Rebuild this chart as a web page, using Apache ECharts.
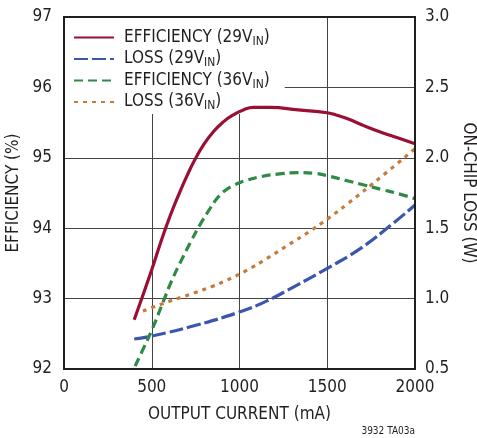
<!DOCTYPE html>
<html><head><meta charset="utf-8">
<script src="https://cdn.jsdelivr.net/npm/echarts@6/dist/echarts.min.js"></script>
<style>html,body{margin:0;padding:0;background:#fff}#c{width:477px;height:438px}</style>
</head><body><div id="c"></div>
<script>
// Efficiency (%) at 29V input
var eff29X = [400, 500, 547, 604, 661, 700, 741, 794, 851, 908, 965, 1022, 1079, 1174, 1335, 1500, 1560, 1620, 1715, 1810, 1905, 2000];
var eff29Y = [92.70, 93.41, 93.77, 94.17, 94.52, 94.74, 94.95, 95.18, 95.37, 95.51, 95.61, 95.68, 95.715, 95.715, 95.68, 95.64, 95.60, 95.55, 95.45, 95.36, 95.28, 95.20];
// On-chip loss (W) at 29V input
var loss29X = [400, 500, 756, 1000, 1150, 1307, 1500, 1690, 1876, 2000];
var loss29Y = [0.713, 0.734, 0.812, 0.905, 0.980, 1.082, 1.215, 1.357, 1.535, 1.665];
// Efficiency (%) at 36V input
var eff36X = [405, 452, 500, 566, 613, 670, 727, 775, 832, 860, 889, 920, 965, 1000, 1041, 1117, 1240, 1335, 1430, 1500, 1620, 1715, 1810, 1905, 2000];
var eff36Y = [92.04, 92.29, 92.55, 92.96, 93.25, 93.55, 93.83, 94.05, 94.28, 94.385, 94.47, 94.54, 94.605, 94.645, 94.68, 94.73, 94.775, 94.79, 94.78, 94.745, 94.67, 94.61, 94.55, 94.49, 94.42];
// On-chip loss (W) at 36V input
var loss36X = [450, 566, 718, 851, 927, 1040, 1155, 1278, 1392, 1506, 1614, 1820, 2000];
var loss36Y = [0.912, 0.966, 1.030, 1.090, 1.130, 1.200, 1.284, 1.381, 1.471, 1.570, 1.672, 1.878, 2.065];

var xTicks = [0, 500, 1000, 1500, 2000];
var effTicks = [92, 93, 94, 95, 96, 97];
var lossTicks = [0.5, 1.0, 1.5, 2.0, 2.5, 3.0];
var seriesNames = ['EFFICIENCY (29V', 'LOSS (29V', 'EFFICIENCY (36V', 'LOSS (36V'];
var subText = 'IN';
var xTitle = 'OUTPUT CURRENT (mA)';
var yTitle = 'EFFICIENCY (%)';
var y2Title = 'ON-CHIP LOSS (W)';
var footnote = '3932 TA03a';

function pairs(xs, ys) { return xs.map(function (x, i) { return [x, ys[i]]; }); }

var FONT = '"Liberation Sans Narrow","DejaVu Sans Condensed","Liberation Sans",sans-serif';
var TXT = '#231f20';
var chart = echarts.init(document.getElementById('c'), null, {renderer: 'canvas'});
var labelStyle = {color: TXT, fontFamily: FONT, fontSize: 17};

function lineSeries(i, xs, ys, axis, color, type) {
  return {
    name: seriesNames[i], type: 'line', yAxisIndex: axis, data: pairs(xs, ys),
    smooth: 0.5, symbol: 'none', showSymbol: false, z: 5,
    color: color, itemStyle: {color: color},
    lineStyle: {color: color, width: 3.2, type: type}
  };
}

chart.setOption({
  animation: false,
  backgroundColor: '#fff',
  grid: {left: 64, right: 62, top: 17, bottom: 69, show: true, borderColor: '#231f20', borderWidth: 2,
         backgroundColor: 'transparent', containLabel: false, outerBoundsMode: 'none', z: 6},
  legend: {
    orient: 'vertical', left: 64, top: 17,
    padding: [12, 15, 2, 9],
    backgroundColor: '#fff',
    itemWidth: 40, itemHeight: 14, itemGap: 3,
    itemStyle: {color: 'transparent', borderWidth: 0, opacity: 0},
    data: seriesNames.map(function (n) { return {name: n}; }),
    formatter: function (name) { return '{a|' + name + '}{s|' + subText + '}{a|)}'; },
    textStyle: {
      padding: [0, 0, 0, 5],
      rich: {
        a: {fontFamily: FONT, fontSize: 17, color: TXT, lineHeight: 20, verticalAlign: 'middle'},
        s: {fontFamily: FONT, fontSize: 12, color: TXT, lineHeight: 20, verticalAlign: 'bottom'}
      }
    }
  },
  xAxis: {
    type: 'value', min: 0, max: 2000, interval: 500,
    axisLine: {show: false}, axisTick: {show: false},
    splitLine: {show: true, lineStyle: {color: '#444', width: 1}},
    axisLabel: Object.assign({margin: 10, formatter: function (v) { return String(v); }}, labelStyle),
    name: xTitle, nameLocation: 'middle', nameGap: 37,
    nameTextStyle: labelStyle
  },
  yAxis: [{
    type: 'value', min: 92, max: 97, interval: 1, position: 'left',
    axisLine: {show: false}, axisTick: {show: false},
    splitLine: {show: true, lineStyle: {color: '#444', width: 1}},
    axisLabel: Object.assign({margin: 12}, labelStyle),
    name: yTitle, nameLocation: 'middle', nameGap: 37, nameRotate: 90,
    nameTextStyle: labelStyle
  }, {
    type: 'value', min: 0.5, max: 3.0, interval: 0.5, position: 'right',
    axisLine: {show: false}, axisTick: {show: false},
    splitLine: {show: false},
    axisLabel: Object.assign({margin: 10, formatter: function (v) { return v.toFixed(1); }}, labelStyle),
    name: y2Title, nameLocation: 'middle', nameGap: 42, nameRotate: -90,
    nameTextStyle: labelStyle
  }],
  series: [
    lineSeries(0, eff29X, eff29Y, 0, '#9a0f34', 'solid'),
    lineSeries(1, loss29X, loss29Y, 1, '#3b57ad', [14, 4]),
    lineSeries(2, eff36X, eff36Y, 0, '#2f8a46', [9, 5]),
    lineSeries(3, loss36X, loss36Y, 1, '#c57b39', [4, 5])
  ],
  graphic: [{
    type: 'text', right: 62, top: 426,
    style: {text: footnote, fontFamily: FONT, fontSize: 10, fill: TXT}
  }]
});
</script>
</body></html>
